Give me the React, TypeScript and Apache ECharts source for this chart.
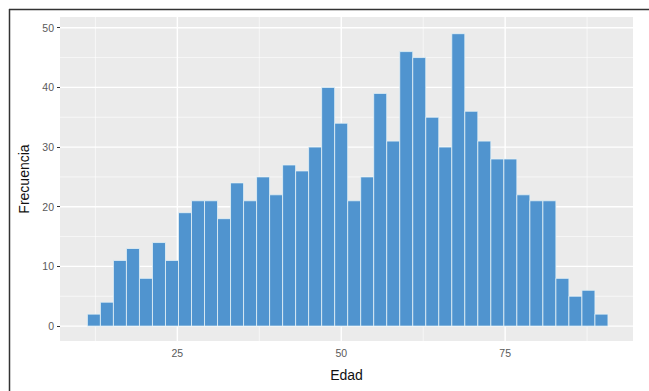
import React, { useEffect, useRef } from "react";
import * as echarts from "echarts";

// Histogram of "Edad" (age), 40 bins
const BIN_START = 11.28;
const BIN_WIDTH = 1.985;
const COUNTS = [
  2, 4, 11, 13, 8, 14, 11, 19, 21, 21,
  18, 24, 21, 25, 22, 27, 26, 30, 40, 34,
  21, 25, 39, 31, 46, 45, 35, 30, 49, 36,
  31, 28, 28, 22, 21, 21, 8, 5, 6, 2,
];
const X_TICKS = [25, 50, 75];
const X_MINOR = [12.5, 37.5, 62.5, 87.5];
const Y_TICKS = [0, 10, 20, 30, 40, 50];
const Y_MINOR = [5, 15, 25, 35, 45];

const X_MIN = 7.1;
const X_MAX = 94.5;
const Y_MIN = -2.5;
const Y_MAX = 51.8;

export default function App() {
  const ref = useRef<HTMLDivElement>(null);
  useEffect(() => {
    if (!ref.current) return;
    const chart = echarts.init(ref.current, undefined, { renderer: "svg" });

    const bars = COUNTS.map((c, i) => [
      BIN_START + i * BIN_WIDTH,
      BIN_START + (i + 1) * BIN_WIDTH,
      c,
    ]);

    const vLines = [
      ...X_MINOR.map((v) => [v, 0, 0.6]),
      ...X_TICKS.map((v) => [v, 0, 1.4]),
    ];
    const hLines = [
      ...Y_MINOR.map((v) => [X_MIN, v, 0.6]),
      ...Y_TICKS.map((v) => [X_MIN, v, 1.4]),
    ];

    const font = "'Liberation Sans', Arial, sans-serif";

    chart.setOption({
      animation: false,
      backgroundColor: "#ffffff",
      grid: { left: 60, top: 17, width: 573, height: 324, containLabel: false },
      xAxis: {
        type: "value",
        min: X_MIN,
        max: X_MAX,
        name: "Edad",
        nameLocation: "middle",
        nameGap: 27,
        nameTextStyle: { fontSize: 14, color: "#111", fontFamily: font },
        axisLine: { show: false },
        splitLine: { show: false },
        axisTick: {
          show: true,
          customValues: X_TICKS,
          length: 3,
          lineStyle: { color: "#333", width: 1 },
        },
        axisLabel: {
          customValues: X_TICKS,
          fontSize: 10.5,
          color: "#5a5a5a",
          margin: 6,
          fontFamily: font,
        },
      },
      yAxis: {
        type: "value",
        min: Y_MIN,
        max: Y_MAX,
        name: "Frecuencia",
        nameLocation: "middle",
        nameGap: 28,
        nameTextStyle: { fontSize: 14, color: "#111", fontFamily: font },
        axisLine: { show: false },
        splitLine: { show: false },
        axisTick: {
          show: true,
          customValues: Y_TICKS,
          length: 3,
          lineStyle: { color: "#333", width: 1 },
        },
        axisLabel: {
          customValues: Y_TICKS,
          fontSize: 10.5,
          color: "#5a5a5a",
          margin: 6,
          fontFamily: font,
        },
      },
      graphic: [
        {
          type: "line",
          shape: { x1: 9, y1: 9.5, x2: 649, y2: 9.5 },
          style: { stroke: "#333", lineWidth: 1.5 },
          z: 100,
        },
        {
          type: "line",
          shape: { x1: 9.5, y1: 9, x2: 9.5, y2: 391 },
          style: { stroke: "#333", lineWidth: 1.5 },
          z: 100,
        },
      ],
      series: [
        {
          type: "custom",
          z: 1,
          silent: true,
          data: [[X_MIN, Y_MIN, X_MAX, Y_MAX]],
          renderItem: (params: any, api: any) => {
            const p0 = api.coord([api.value(0), api.value(3)]);
            const p1 = api.coord([api.value(2), api.value(1)]);
            return {
              type: "rect",
              shape: { x: p0[0], y: p0[1], width: p1[0] - p0[0], height: p1[1] - p0[1] },
              style: { fill: "#ebebeb" },
            };
          },
        },
        {
          type: "custom",
          z: 2,
          silent: true,
          data: vLines,
          renderItem: (params: any, api: any) => {
            const v = api.value(0);
            const a = api.coord([v, Y_MIN]);
            const b = api.coord([v, Y_MAX]);
            return {
              type: "line",
              shape: { x1: a[0], y1: a[1], x2: b[0], y2: b[1] },
              style: { stroke: "#ffffff", lineWidth: api.value(2) },
            };
          },
        },
        {
          type: "custom",
          z: 2,
          silent: true,
          data: hLines,
          renderItem: (params: any, api: any) => {
            const v = api.value(1);
            const a = api.coord([X_MIN, v]);
            const b = api.coord([X_MAX, v]);
            return {
              type: "line",
              shape: { x1: a[0], y1: a[1], x2: b[0], y2: b[1] },
              style: { stroke: "#ffffff", lineWidth: api.value(2) },
            };
          },
        },
        {
          type: "custom",
          z: 3,
          data: bars,
          encode: { x: [0, 1], y: 2 },
          renderItem: (params: any, api: any) => {
            const a = api.coord([api.value(0), api.value(2)]);
            const b = api.coord([api.value(1), 0]);
            return {
              type: "rect",
              shape: { x: a[0], y: a[1], width: b[0] - a[0], height: b[1] - a[1] },
              style: { fill: "#5094cf", stroke: "#e4f1f6", lineWidth: 0.8 },
            };
          },
        },
      ],
    });
    return () => chart.dispose();
  }, []);
  return (
    <div
      ref={ref}
      style={{ position: "fixed", left: 0, top: 0, width: 649, height: 391 }}
    />
  );
}
